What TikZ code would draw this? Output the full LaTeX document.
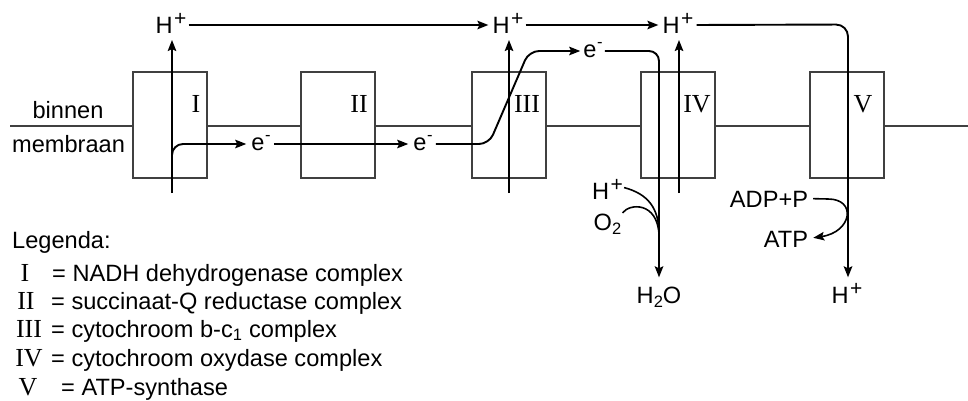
\documentclass[tikz,border=0pt]{standalone}
\usepackage{fontspec}
\setmainfont{Liberation Sans}
\newfontfamily\romanfont{Liberation Serif}
\usetikzlibrary{arrows.meta}
\newcommand\plussup{\kern1.5pt\raisebox{7.8pt}{\fontsize{21}{21}\selectfont +}}
\newcommand\minussup{\kern0.5pt\raisebox{9.5pt}{\fontsize{16.5}{16.5}\selectfont -}}
\newcommand\twosub{\raisebox{-4.5pt}{\fontsize{16.5}{16.5}\selectfont 2}}
\begin{document}
\begin{tikzpicture}[x=1pt,y=-1pt,
  membr/.style={line width=1.2pt, draw=black!75},
  cplx/.style={membr, fill=white, minimum width=74pt, minimum height=106pt, inner sep=0pt},
  flowline/.style={line width=1.9pt, draw=black},
  flow/.style={flowline, -{Stealth[length=11pt,width=8.5pt,inset=2pt]}},
  lbl/.style={font=\fontsize{23.6}{28}\selectfont, inner sep=0pt},
  hlab/.style={lbl, text height=16.9pt, text depth=0pt},
  elab/.style={lbl, text height=12.25pt, text depth=0pt},
  rom/.style={font=\romanfont\fontsize{26}{30}\selectfont, inner sep=0pt},
]
\useasboundingbox (0,0) rectangle (968,401);

% membrane
\coordinate (mL) at (10,126);
\coordinate (mR) at (968,126);
\draw[membr] (mL) -- (mR);

% complexes
\node[cplx] (bI)   at (170,125) {};
\node[cplx] (bII)  at (338,125) {};
\node[cplx] (bIII) at (509,125) {};
\node[cplx] (bIV)  at (678,125) {};
\node[cplx] (bV)   at (847,125) {};

\node[rom, anchor=base] (nI)   at (196,113) {I};
\node[rom, anchor=base] (nII)  at (359,113) {II};
\node[rom, anchor=base] (nIII) at (527,113) {III};
\node[rom, anchor=base] (nIV)  at (697,113) {IV};
\node[rom, anchor=base] (nV)   at (863,113) {V};

% side labels
\node[lbl, anchor=base] (binnen) at (68,118) {binnen};
\node[lbl, anchor=base] (membraan) at (68.5,152) {membraan};

% H+ labels top
\node[hlab] (hI)   at (171,25) {H\plussup};
\node[hlab] (hIII) at (508,25) {H\plussup};
\node[hlab] (hIV)  at (678,25) {H\plussup};
\node[hlab] (hV)   at (847,295) {H\plussup};

% vertical proton arrows
\coordinate (sI)   at (172,193);
\coordinate (sIII) at (509,193);
\coordinate (sIV)  at (679,193);
\coordinate (tI)   at (172,40);
\coordinate (tIII) at (509,40);
\coordinate (tIV)  at (679,40);
\draw[flow] (sI) -- (tI);
\draw[flow] (sIII) -- (tIII);
\draw[flow] (sIV) -- (tIV);

% top proton flow
\draw[flow, shorten <=2pt, shorten >=4pt] (hI.east) -- (hIII.west);
\draw[flow, shorten <=2pt, shorten >=4pt] (hIII.east) -- (hIV.west);
\coordinate (cV) at (848,24.5);
\draw[flow, rounded corners=12pt, shorten <=3pt, shorten >=9pt] (hIV.east) -- (cV) -- (hV.north -| cV);

% electrons
\node[elab] (e1) at (261,144) {e\minussup};
\node[elab] (e2) at (423,144) {e\minussup};
\node[elab] (e3) at (593,51) {e\minussup};
\node[hlab] (h2o) at (659,295) {H\twosub O};

\coordinate (eS) at (172,158);
\draw[flow, rounded corners=11pt, shorten >=5pt] (eS) -- (eS |- e1.west) -- (e1.west);
\draw[flow, shorten <=3pt, shorten >=5pt] (e1.east) -- (e2.west);
\coordinate (k1) at (489,144);
\coordinate (k2) at (529,51);
\draw[flow, rounded corners=10pt, shorten >=3pt] ([xshift=3pt]e2.east) -- (k1) -- (k2) -- (e3.west);
\coordinate (k3) at (659,51);
\draw[flow, rounded corners=10pt, shorten >=9pt] ([xshift=2pt]e3.east) -- (k3) -- (h2o.north);

% water formation
\node[hlab, anchor=base] (hB) at (607.5,199) {H\plussup};
\node[hlab, anchor=base] (o2) at (607.5,230) {O\twosub};
\coordinate (jn) at (659,234);
\draw[flowline, line width=1.6pt] ([shift={(1pt,3pt)}]hB.east) .. controls (648,194) and (659,208) .. (jn);
\draw[flowline, line width=1.6pt] ([xshift=1pt]o2.north east) .. controls (630,203) and (657,202) .. (jn);

% ATP synthesis
\node[hlab, anchor=base] (adp) at (769,207) {ADP+P};
\node[hlab, anchor=base] (atp) at (786,247) {ATP};
\coordinate (a1) at (828,199);
\draw[flow, line width=1.6pt, shorten <=5pt, shorten >=5pt] (adp.east) -- (a1) .. controls (857,199) and (852,232) .. (atp.east);

% legend
\node[lbl, anchor=base west] (leg) at (12,248) {Legenda:};
\node[rom, anchor=base] (lI)   at (25,281) {I};
\node[rom, anchor=base] (lII)  at (26,309) {II};
\node[rom, anchor=base] (lIII) at (29,337) {III};
\node[rom, anchor=base] (lIV)  at (29,366) {IV};
\node[rom, anchor=base] (lV)   at (28,395) {V};
\node[lbl, anchor=base west] (dI)   at (52,281) {= NADH dehydrogenase complex};
\node[lbl, anchor=base west] (dII)  at (51,309) {= succinaat-Q reductase complex};
\node[lbl, anchor=base west] (dIII) at (51,337) {= cytochroom b-c\textsubscript{1} complex};
\node[lbl, anchor=base west] (dIV)  at (51,366) {= cytochroom oxydase complex};
\node[lbl, anchor=base west] (dV)   at (61,395) {= ATP-synthase};
\end{tikzpicture}
\end{document}
